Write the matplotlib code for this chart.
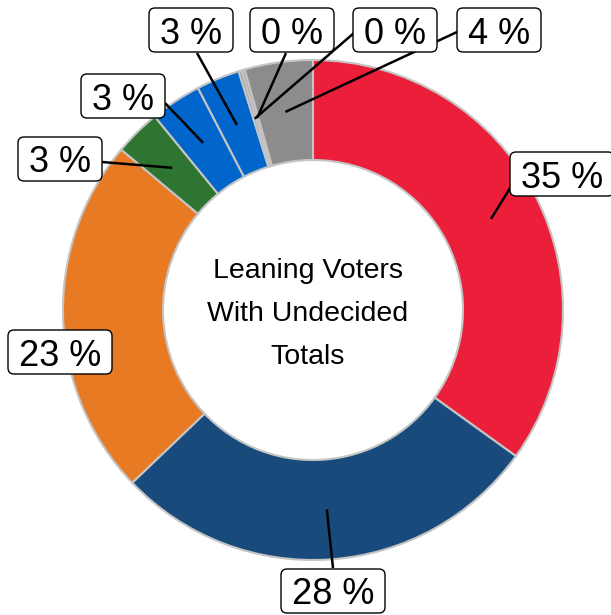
import numpy as np
import matplotlib.pyplot as plt
from matplotlib.patches import FancyBboxPatch

plt.rcParams['font.family'] = ['Liberation Sans', 'DejaVu Sans']

# Share of leaning voters (clockwise from the top)
shares = [34.9, 27.9, 23.2, 3.0, 3.3, 2.8, 0.2, 0.2, 4.4]
labels = ['35 %', '28 %', '23 %', '3 %', '3 %', '3 %', '0 %', '0 %', '4 %']
colors = ['#ec1f3a', '#184a7c', '#e87a23', '#2e7532', '#0066cc', '#0066cc',
          '#9a9a9a', '#a8a8a8', '#8c8c8c']

# label box centres and where the leader line meets the box (pixel coords)
box_xy = [(562, 174), (333, 591), (60, 352), (60, 159), (123, 96),
          (191, 30), (395, 30), (292, 30), (499, 30)]
line_end = [(512, 185), (333, 568), None, (102, 162), (165, 103),
            (197, 53), (354, 33), (286, 53), (457, 32)]

W, H = 611, 615
cx, cy, r_out, r_in = 313, 310, 250, 150


def px(x, y):
    return x, H - y


fig = plt.figure(figsize=(W / 100, H / 100), dpi=100)
ax = fig.add_axes([0, 0, 1, 1])

wedges, _ = ax.pie(shares, colors=colors, startangle=90, counterclock=False,
                   radius=r_out, center=px(cx, cy),
                   wedgeprops=dict(width=r_out - r_in, edgecolor='#c4c4c4',
                                   linewidth=1.5))

for w, lab, bxy, le in zip(wedges, labels, box_xy, line_end):
    if le is not None:
        mid = np.deg2rad((w.theta1 + w.theta2) / 2)
        x0 = cx + 200 * np.cos(mid)
        y0 = cy - 200 * np.sin(mid)
        ex, ey = px(*le)
        ax.plot([x0, ex], [H - y0, ey], color='black', lw=1.8, zorder=5,
                solid_capstyle='butt')
    bw = 104 if len(lab) > 3 else 84
    bh = 44
    bx, by = px(*bxy)
    ax.add_patch(FancyBboxPatch((bx - bw / 2, by - bh / 2), bw, bh,
                                boxstyle='round,pad=0,rounding_size=6',
                                facecolor='white', edgecolor='black',
                                lw=1.0, zorder=6))
    ax.text(bx, by, lab, ha='center', va='center_baseline', fontsize=26,
            zorder=7)

ax.text(*px(cx - 5, 314), 'Leaning Voters\nWith Undecided\nTotals',
        ha='center', va='center', fontsize=20.5, linespacing=1.87, zorder=7)

ax.set_xlim(0, W)
ax.set_ylim(0, H)
ax.set_aspect('auto')
ax.axis('off')

fig.savefig('out.png', dpi=100, facecolor='white')
